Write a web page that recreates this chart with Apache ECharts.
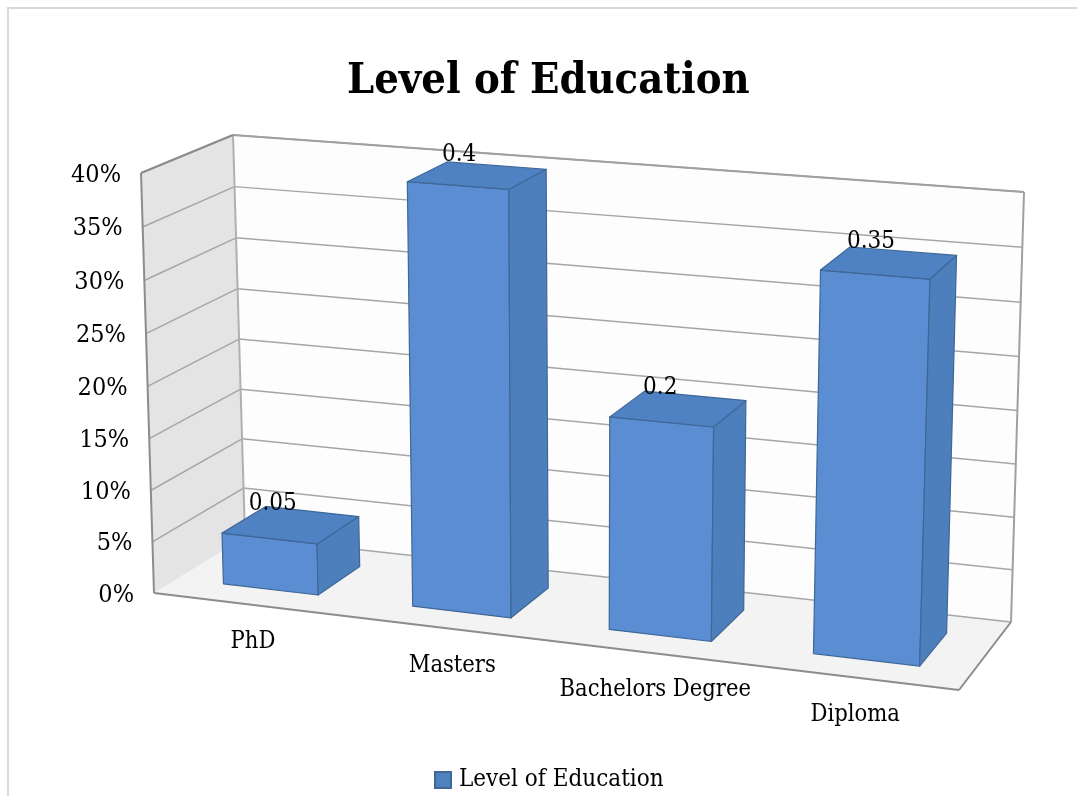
<!DOCTYPE html>
<html><head><meta charset="utf-8">
<style>html,body{margin:0;padding:0;background:#fff}#c{width:1077px;height:796px}</style>
<script src="https://cdn.jsdelivr.net/npm/echarts@6/dist/echarts.min.js"></script>
</head><body><div id="c"></div>
<script>
const titleText = 'Level of Education';
const categories = ['PhD', 'Masters', 'Bachelors Degree', 'Diploma'];
const values = [0.05, 0.4, 0.2, 0.35];
const tickValues = [0, 0.05, 0.1, 0.15, 0.2, 0.25, 0.3, 0.35, 0.4];
const tickLabels = ['0%', '5%', '10%', '15%', '20%', '25%', '30%', '35%', '40%'];

const FONT = '"DejaVu Serif Condensed"';
// Camera: where the unit box of the plot lands on screen: [u=0,v=0],[u=1,v=0],[u=1,v=1],[u=0,v=1]
const FRONT = [[154, 593], [959, 690], [973, 238], [141, 173]];
const BACK = [[245, 537], [1011, 622], [1024, 192], [233, 135]];
const BAR_W = 0.505, DEPTH_A = 0.26, DEPTH_B = 0.75;
const CAT_NUDGE = [5, 11, 13, 4];

function homography(q) {
  const [[x0,y0],[x1,y1],[x2,y2],[x3,y3]] = q;
  const dx1=x1-x2, dx2=x3-x2, sx=x0-x1+x2-x3, dy1=y1-y2, dy2=y3-y2, sy=y0-y1+y2-y3;
  const d=dx1*dy2-dx2*dy1, g=(sx*dy2-dx2*sy)/d, h=(dx1*sy-sx*dy1)/d;
  const a=x1-x0+g*x1, b=x3-x0+h*x3, e=y1-y0+g*y1, f=y3-y0+h*y3;
  return (u,v)=>{const w=g*u+h*v+1; return [(a*u+b*v+x0)/w,(e*u+f*v+y0)/w];};
}
const hF = homography(FRONT), hB = homography(BACK);
function project(u, v, w) {
  const p = hF(u, v), q = hB(u, v);
  return [p[0] + (q[0]-p[0])*w, p[1] + (q[1]-p[1])*w];
}
function toUnit(params, api, cat, val, off) {
  const cs = params.coordSys;
  const pt = api.coord([cat, val]);
  const band = api.size([1, 0])[0];
  return [(pt[0] + (off||0)*band - cs.x)/cs.width, (cs.y + cs.height - pt[1])/cs.height];
}
const lineStyle = (c, w) => ({stroke: c, lineWidth: w, fill: null});
function poly(points, fill, stroke, lw) {
  return {type:'polygon', shape:{points}, style:{fill, stroke: stroke||null, lineWidth: lw||0, lineJoin:'round'}};
}
function seg(a, b, c, w) {
  return {type:'line', shape:{x1:a[0],y1:a[1],x2:b[0],y2:b[1]}, style:lineStyle(c,w)};
}
function renderFrame(params, api) {
  const ch = [];
  const [a,b,c,d] = [project(0,0,0),project(1,0,0),project(1,0,1),project(0,0,1)];
  const at = project(0,1,0), dt = project(0,1,1), ct = project(1,1,1);
  ch.push(poly([a,b,c,d], '#f3f3f3'));
  ch.push(poly([a,d,dt,at], '#e4e4e4'));
  ch.push(poly([d,c,ct,dt], '#fdfdfd'));
  tickValues.forEach((t,i)=>{
    const v = toUnit(params, api, 0, t)[1];
    const p0 = project(0,v,0), p1 = project(0,v,1), p2 = project(1,v,1);
    if (i>0) ch.push(seg(p0,p1,'#a6a6a6',1.5));
    ch.push(seg(p1,p2,'#a6a6a6',1.5));
    ch.push({type:'text', style:{text:tickLabels[i], x:p0[0]-20, y:p0[1]+2, align:'right', verticalAlign:'middle',
      fill:'#000', font:'25px '+FONT}});
  });
  ch.push(seg(d,dt,'#b0b0b0',2));
  ch.push(seg(c,ct,'#a0a0a0',2));
  ch.push(seg(dt,at,'#8c8c8c',2));
  ch.push(seg(at,a,'#8c8c8c',2));
  ch.push(seg(a,b,'#8c8c8c',2));
  ch.push(seg(b,c,'#8c8c8c',2));
  ch.push(seg(dt,ct,'#a0a0a0',2));
  categories.forEach((name,i)=>{
    const u = toUnit(params, api, i, 0)[0];
    const p = project(u,0,0);
    ch.push({type:'text', style:{text:name, x:p[0]+CAT_NUDGE[i], y:p[1]+38, align:'center', verticalAlign:'middle',
      fill:'#000', font:'23.5px '+FONT}});
  });
  return {type:'group', children: ch};
}
function renderBar(params, api) {
  const i = api.value(0), val = api.value(1);
  const [ul, v] = toUnit(params, api, i, val, -BAR_W/2);
  const ur = toUnit(params, api, i, val, BAR_W/2)[0];
  const P = (u,vv,w)=>project(u,vv,w);
  const a=P(ul,0,DEPTH_A), b=P(ur,0,DEPTH_A), c=P(ur,v,DEPTH_A), d=P(ul,v,DEPTH_A);
  const e=P(ur,0,DEPTH_B), f=P(ur,v,DEPTH_B), g=P(ul,v,DEPTH_B);
  const edge='#3f6797';
  const tc = P((ul+ur)/2, v, (DEPTH_A+DEPTH_B)/2);
  return {type:'group', children:[
    poly([a,b,c,d], '#5a8dd2', edge, 1.2),
    poly([b,e,f,c], '#4d7fbc', edge, 1.2),
    poly([d,c,f,g], '#4f82c2', edge, 1.2),
    {type:'text', style:{text:String(val), x:tc[0]-18, y:tc[1]-21, align:'center', verticalAlign:'middle',
      fill:'#000', font:'24px '+FONT}}
  ]};
}
const chart = echarts.init(document.getElementById('c'), null, {renderer:'canvas'});
chart.setOption({
  animation:false,
  backgroundColor:'#fff',
  title:{text:titleText, left:342, top:55, textStyle:{fontFamily:FONT, fontWeight:'bold', fontSize:43, color:'#000'}},
  legend:{data:[titleText], bottom:-1, left:429, icon:'rect', itemWidth:16, itemHeight:16, itemGap:8,
    textStyle:{fontFamily:FONT, fontSize:24, color:'#000', padding:[0,0,0,3]}},
  graphic:[{type:'rect', silent:true, shape:{x:8,y:8,width:1300,height:1000}, style:{fill:null, stroke:'#d9d9d9', lineWidth:2}}],
  grid:{left:100, top:100, width:800, height:400},
  xAxis:{type:'category', data:categories, show:false},
  yAxis:{type:'value', min:0, max:0.4, interval:0.05, show:false},
  series:[
    {type:'custom', name:'frame', silent:true, coordinateSystem:'cartesian2d', renderItem:renderFrame, data:[[0,0]], z:1},
    {type:'custom', name:titleText, coordinateSystem:'cartesian2d', renderItem:renderBar,
     itemStyle:{color:'#4f81bd', borderColor:'#3f6797', borderWidth:1},
     data:values.map((v,i)=>[i,v]), encode:{x:0,y:1}, z:2}
  ]
});
</script></body></html>
